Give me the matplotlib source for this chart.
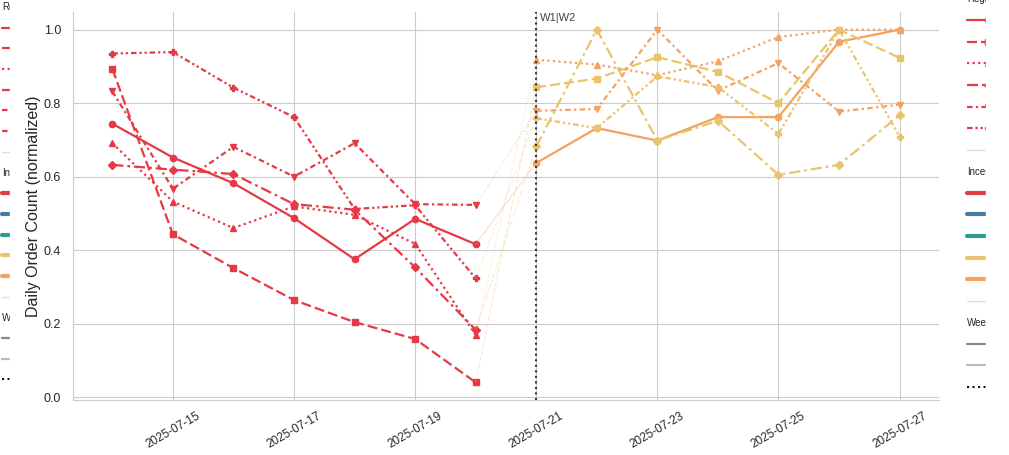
import matplotlib
matplotlib.use("Agg")
import pandas as pd
import matplotlib.pyplot as plt
import matplotlib.dates as mdates
import matplotlib.offsetbox as mob
from matplotlib.lines import Line2D
from matplotlib.patches import Rectangle
import seaborn as sns

## Data
w1_dates = pd.date_range("2025-07-14", "2025-07-20")
w2_dates = pd.date_range("2025-07-21", "2025-07-27")

regions = ["North", "South", "East", "West", "Central", "Coastal"]

# week 1 (normalized daily order counts)
w1_north = [0.744, 0.652, 0.582, 0.487, 0.375, 0.485, 0.416]
w1_south = [0.893, 0.443, 0.351, 0.264, 0.204, 0.158, 0.040]
w1_east = [0.691, 0.532, 0.460, 0.519, 0.496, 0.417, 0.169]
w1_west = [0.632, 0.619, 0.607, 0.525, 0.510, 0.353, 0.183]
w1_central = [0.832, 0.567, 0.681, 0.600, 0.691, 0.525, 0.523]
w1_coastal = [0.935, 0.939, 0.842, 0.762, 0.512, 0.522, 0.323]

# week 2
w2_north = [0.637, 0.732, 0.698, 0.762, 0.762, 0.967, 1.000]
w2_south = [0.843, 0.867, 0.925, 0.885, 0.800, 1.000, 0.923]
w2_east = [0.918, 0.905, 0.876, 0.914, 0.980, 1.000, 1.000]
w2_west = [0.682, 1.000, 0.698, 0.752, 0.605, 0.632, 0.767]
w2_central = [0.779, 0.784, 1.000, 0.834, 0.909, 0.777, 0.796]
w2_coastal = [0.759, 0.732, 0.873, 0.844, 0.716, 1.000, 0.709]

incentives = ["None", "Coupon 5%", "Coupon 10%", "Free Delivery", "Bundle Deal"]
w1_incentive = ["None"] * 6
w2_incentive = ["Bundle Deal", "Free Delivery", "Bundle Deal",
                "Free Delivery", "Bundle Deal", "Free Delivery"]

## Styles
inc_colors = dict(zip(incentives, ["#E63946", "#457B9D", "#2A9D8F", "#E9C46A", "#F4A261"]))
styles = ["-", (0, (4.5, 1.8)), (0, (1, 1.5)), (0, (5, 1.8, 1.2, 1.8)),
          (0, (2.5, 1.5, 1, 1.5)), (0, (2.5, 1.3, 1, 1.3, 1, 1.3))]
markers = ["o", "s", "^", "D", "v", "P"]
msizes = [4.5, 4.5, 4.5, 4, 4.5, 5]

sns.set_style("whitegrid")
plt.rcParams["font.family"] = ["Liberation Sans", "DejaVu Sans"]

fig = plt.figure(figsize=(10.09, 4.55), dpi=100)
ax = fig.add_axes([0.0723, 0.1209, 0.8583, 0.8527])

w1 = [w1_north, w1_south, w1_east, w1_west, w1_central, w1_coastal]
w2 = [w2_north, w2_south, w2_east, w2_west, w2_central, w2_coastal]

for i, r in enumerate(regions):
    c1 = inc_colors[w1_incentive[i]]
    c2 = inc_colors[w2_incentive[i]]
    ax.plot(w1_dates, w1[i], color=c1, ls=styles[i], marker=markers[i],
            ms=msizes[i], lw=1.6)
    ax.plot(w2_dates, w2[i], color=c2, ls=styles[i], marker=markers[i],
            ms=msizes[i], lw=1.6)
    # faint bridge between the weeks
    ax.plot([w1_dates[-1], w2_dates[0]], [w1[i][-1], w2[i][0]], color=c2,
            ls=styles[i], lw=0.8, alpha=0.35)

split = mdates.date2num(w2_dates[0])
ax.axvline(split, color="#333333", ls=":", lw=1.5)
ax.annotate("W1|W2", xy=(split, 1), xycoords=ax.get_xaxis_transform(),
            xytext=(3, -1), textcoords="offset points", va="top", ha="left",
            fontsize=8, color="#444444")

ax.xaxis.set_major_locator(mdates.DayLocator(interval=2))
ax.xaxis.set_major_formatter(mdates.DateFormatter("%Y-%m-%d"))
ax.tick_params(axis="x", labelsize=8.5, rotation=30)
ax.tick_params(axis="y", labelsize=9, pad=5)
ax.set_xlabel("Date", fontsize=11.5)
ax.set_ylabel("Daily Order Count (normalized)", fontsize=11.5, labelpad=2)
sns.despine(ax=ax)

## Legend
handles = [Line2D([], [], color="none", label="Region")]
for i, r in enumerate(regions):
    handles.append(Line2D([], [], color=inc_colors["None"], ls=styles[i],
                          marker=markers[i], ms=msizes[i], lw=1.6, label=r))
handles.append(Line2D([], [], color="#dddddd", lw=1, label=" "))
handles.append(Line2D([], [], color="none", label="Incentive"))
for inc in incentives:
    handles.append(Line2D([], [], color=inc_colors[inc], lw=3,
                          solid_capstyle="round", label=inc))
handles.append(Line2D([], [], color="#dddddd", lw=1, label=" "))
handles.append(Line2D([], [], color="none", label="Week"))
handles.append(Line2D([], [], color="#888888", lw=1.6, label="W1 (Jul 14-20)"))
handles.append(Line2D([], [], color="#bbbbbb", lw=1.6, label="W2 (Jul 21-27)"))
handles.append(Line2D([], [], color="#111111", ls=":", lw=1.5, label="Week boundary"))
headers = ["Region", "Incentive", "Week"]


def make_legend(x, y, size, spacing):
    leg = fig.legend(handles=handles, loc="upper left", bbox_to_anchor=(x, y),
                     frameon=False, fontsize=size, labelspacing=spacing,
                     handlelength=4.3, borderpad=0, borderaxespad=0)
    for hp in leg.findobj(mob.HPacker):
        kids = hp.get_children()
        if len(kids) == 2 and isinstance(kids[0], mob.DrawingArea):
            txt = kids[1].get_children()[0]
            if txt.get_text() in headers:
                kids[0].width = 0
                hp.sep = 0
                txt.set_color("#222222")
    return leg


make_legend(967 / 1009, 1.013, 7, 1.19)
left = make_legend(2 / 1009, 0.995, 7, 1.1)
left.set_zorder(-1)
# the legends only peek in at the figure edges
fig.add_artist(Rectangle((10 / 1009, 0), 0.5, 1, transform=fig.transFigure,
                         color="white", zorder=-0.5))
fig.add_artist(Rectangle((986 / 1009, 0), 0.1, 1, transform=fig.transFigure,
                         color="white", zorder=10))

fig.savefig("out.png", dpi=100)
